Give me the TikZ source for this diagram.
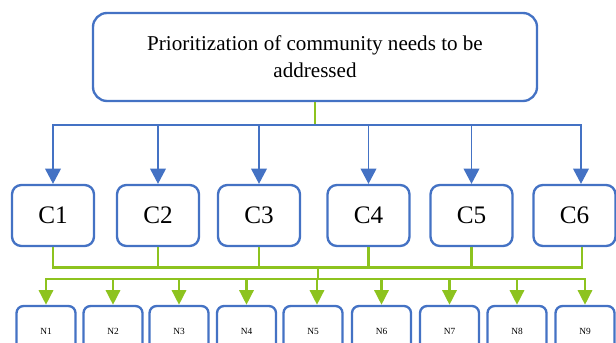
\documentclass[tikz,border=0pt]{standalone}
\usepackage{fontspec}
\setmainfont{Liberation Serif}
\usetikzlibrary{arrows.meta}
\definecolor{boxblue}{RGB}{68,114,196}
\definecolor{linkgreen}{RGB}{141,195,31}
\tikzset{
    box/.style = {draw=boxblue, line width=2pt, rounded corners=8pt, fill=white},
    cbox/.style = {box, minimum width=2.46cm, minimum height=1.83cm, font=\fontsize{21.5}{26}\selectfont},
    nbox/.style = {box, rounded corners=6pt, minimum width=1.77cm, minimum height=1.5cm, font=\fontsize{8}{10}\selectfont},
    blueline/.style = {draw=boxblue, line width=1.1pt},
    greenline/.style = {draw=linkgreen, line width=2.4pt},
    bluearrow/.style = {blueline, -{Triangle[length=13pt, width=13.5pt]}},
    greenarrow/.style = {greenline, -{Triangle[length=12.5pt, width=12pt]}}
}
\begin{document}
\begin{tikzpicture}[x=0.03cm, y=-0.03cm]
    \useasboundingbox (0,0) rectangle (616,343);
    \node [box, rounded corners=12pt, minimum width=13.32cm, minimum height=2.64cm, align=center, font=\fontsize{18}{23}\selectfont] (top) at (315,57) {Prioritization of community needs to be\\addressed};
    \node [cbox] (c1) at (53,215.5) {C1};
    \node [cbox] (c2) at (158,215.5) {C2};
    \node [cbox] (c3) at (259,215.5) {C3};
    \node [cbox] (c4) at (368.5,215.5) {C4};
    \node [cbox] (c5) at (471.5,215.5) {C5};
    \node [cbox] (c6) at (574.5,215.5) {C6};
    \node [nbox] (n1) at (46,331) {N1};
    \node [nbox] (n2) at (113,331) {N2};
    \node [nbox] (n3) at (179,331) {N3};
    \node [nbox] (n4) at (246.5,331) {N4};
    \node [nbox] (n5) at (313,331) {N5};
    \node [nbox] (n6) at (381.5,331) {N6};
    \node [nbox] (n7) at (449.5,331) {N7};
    \node [nbox] (n8) at (517,331) {N8};
    \node [nbox] (n9) at (585,331) {N9};
    \coordinate (split) at (315,125);
    \coordinate (merge) at (318,267.5);
    \coordinate (spread) at (318,279);
    \draw [greenline] (top.south) -- (split);
    \draw [bluearrow] (split) -| (c1.north);
    \draw [bluearrow] (split) -| (c2.north);
    \draw [bluearrow] (split) -| (c3.north);
    \draw [bluearrow] (split) -| (c4.north);
    \draw [bluearrow] (split) -| (c5.north);
    \draw [bluearrow] (split) -| ([xshift=6.5*0.03cm]c6.north);
    \draw [greenline] (c1.south) |- (merge);
    \draw [greenline] (c2.south) |- (merge);
    \draw [greenline] (c3.south) |- (merge);
    \draw [greenline] (c4.south) |- (merge);
    \draw [greenline] (c5.south) |- (merge);
    \draw [greenline] ([xshift=7.5*0.03cm]c6.south) |- (merge);
    \draw [greenline] (merge) -- (spread);
    \draw [greenarrow] (spread) -| (n1.north);
    \draw [greenarrow] (spread) -| (n2.north);
    \draw [greenarrow] (spread) -| (n3.north);
    \draw [greenarrow] (spread) -| (n4.north);
    \draw [greenarrow] (spread) -| ([xshift=4*0.03cm]n5.north);
    \draw [greenarrow] (spread) -| (n6.north);
    \draw [greenarrow] (spread) -| (n7.north);
    \draw [greenarrow] (spread) -| (n8.north);
    \draw [greenarrow] (spread) -| (n9.north);
\end{tikzpicture}
\end{document}
